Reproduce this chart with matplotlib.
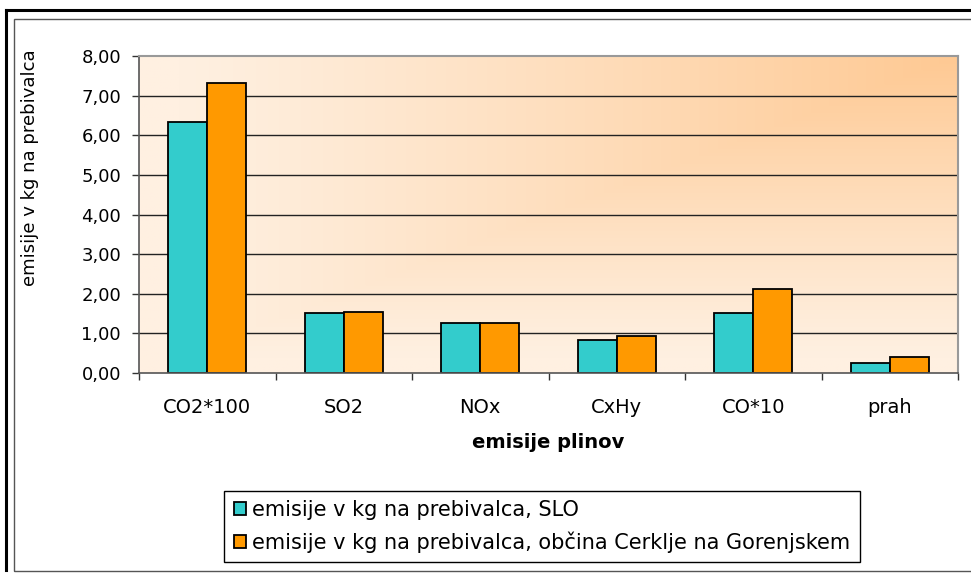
import numpy as np
import matplotlib
matplotlib.use("Agg")
import matplotlib.pyplot as plt
from matplotlib.lines import Line2D
from matplotlib.patches import Rectangle

plt.rcParams['font.family'] = ['DejaVu Sans']

categories = ["CO2*100", "SO2", "NOx", "CxHy", "CO*10", "prah"]
slo = [6.34, 1.51, 1.25, 0.84, 1.52, 0.25]
cerklje = [7.32, 1.55, 1.25, 0.93, 2.13, 0.40]
series_names = ["emisije v kg na prebivalca, SLO",
                "emisije v kg na prebivalca, občina Cerklje na Gorenjskem"]
y_ticks = [0, 1, 2, 3, 4, 5, 6, 7, 8]
y_label = "emisije v kg na prebivalca"
x_label = "emisije plinov"

W, H = 971, 575
fig = plt.figure(figsize=(W / 100, H / 100), dpi=100)

def fx(px):
    return px / W

def fy(py):
    return 1 - py / H

# frames
fig.add_artist(Line2D([fx(6), fx(6)], [fy(570), fy(10)], color='black', lw=2.2, transform=fig.transFigure))
fig.add_artist(Line2D([fx(6), 1.0], [fy(10), fy(10)], color='black', lw=2.2, transform=fig.transFigure))
fig.add_artist(Rectangle((fx(14), fy(571)), 1.0, fy(19) - fy(571), fill=False, edgecolor='#555555', lw=1.0,
                         transform=fig.transFigure))

left, right, top, bottom = 139, 958, 56, 373
ax = fig.add_axes([fx(left), fy(bottom), (right - left) / W, (bottom - top) / H])

# gradient background (from top-right corner)
ny, nx = 200, 400
xs = np.linspace(0, 1, nx)
ys = np.linspace(0, 1, ny)
X, Y = np.meshgrid(xs, ys)
d = np.maximum(1 - X, Y)  # row 0 = top
t = np.clip(1 - d / 0.95, 0, 1) ** 1.1
light = np.array([255, 240, 225]) / 255
dark = np.array([254, 201, 147]) / 255
img = light[None, None, :] + (dark - light)[None, None, :] * t[:, :, None]
ax.imshow(img, extent=[0, len(categories), 0, 8], aspect='auto', zorder=0, origin='upper')

ax.set_xlim(0, len(categories))
ax.set_ylim(0, 8)

for yv in y_ticks[1:-1]:
    ax.axhline(yv, color='#222222', lw=1.0, zorder=1)

x = np.arange(len(categories)) + 0.5
bw = 0.285
ax.bar(x - bw / 2, slo, width=bw, color='#33CCCC', edgecolor='black', lw=1.3, zorder=2, label=series_names[0])
ax.bar(x + bw / 2, cerklje, width=bw, color='#FF9900', edgecolor='black', lw=1.3, zorder=2, label=series_names[1])

ax.set_yticks(y_ticks)
ax.set_yticklabels([f"{v:.2f}".replace('.', ',') for v in y_ticks], fontsize=13)
ax.set_xticks(np.arange(len(categories) + 1))
ax.set_xticklabels([])
ax.set_xticks(x, minor=True)
ax.set_xticklabels(categories, minor=True, fontsize=14)
ax.tick_params(axis='x', which='minor', length=0, pad=18)
ax.tick_params(axis='x', which='major', length=5, width=1, color='#333333', direction='out')
ax.tick_params(axis='y', length=5, width=1, color='#333333', direction='out', pad=8)

for s in ['top', 'right']:
    ax.spines[s].set_color('#999999')
    ax.spines[s].set_linewidth(1.5)
for s in ['left', 'bottom']:
    ax.spines[s].set_color('#555555')
    ax.spines[s].set_linewidth(1.2)

fig.text(fx(30), fy(168), y_label, rotation=90, ha='center', va='center', fontsize=13)
fig.text(fx(548), fy(443), x_label, ha='center', va='center', fontsize=14, fontweight='bold')

leg = fig.legend(loc='center', bbox_to_anchor=(fx(542), fy(526.5)), fontsize=15, frameon=True,
                 fancybox=False, edgecolor='black', framealpha=1, handlelength=0.6, handleheight=0.6,
                 handletextpad=0.3, labelspacing=0.55, borderpad=0.45, borderaxespad=0)
leg.get_frame().set_linewidth(1.0)

fig.savefig("out.png", dpi=100)
